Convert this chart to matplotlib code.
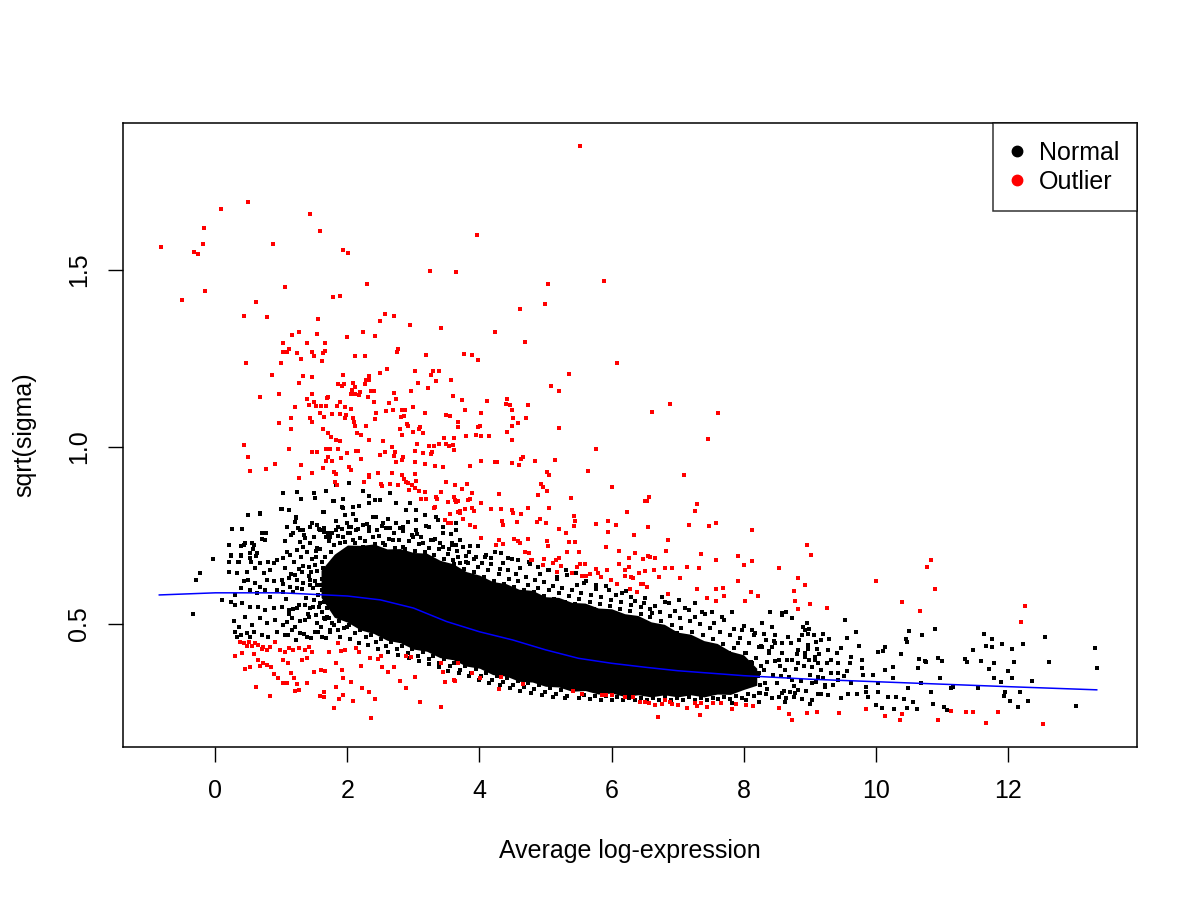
import matplotlib
matplotlib.use('Agg')
import matplotlib.pyplot as plt
from matplotlib.lines import Line2D
import numpy as np

plt.rcParams['font.family'] = ['Liberation Sans', 'DejaVu Sans']

# ---- data (x = average log-expression, y = sqrt(sigma)) ----

# outliers, upper cloud
red_high = [
    (0.50, 1.691), (0.08, 1.672), (-0.18, 1.619), (1.43, 1.657), (1.58, 1.611), (-0.83, 1.564),
    (-0.19, 1.573), (-0.32, 1.550), (-0.27, 1.546), (0.87, 1.573), (1.94, 1.557), (2.01, 1.547),
    (3.25, 1.497), (3.64, 1.494), (2.30, 1.460), (1.05, 1.453), (-0.16, 1.441), (-0.50, 1.414),
    (1.78, 1.425), (1.88, 1.427), (0.62, 1.409), (0.44, 1.369), (0.78, 1.366), (1.56, 1.361),
    (2.57, 1.375), (2.50, 1.355), (2.71, 1.369), (2.95, 1.345), (3.41, 1.337), (1.26, 1.326),
    (1.16, 1.315), (1.54, 1.320), (2.23, 1.324), (2.42, 1.313), (2.00, 1.310), (1.02, 1.295),
    (1.39, 1.293), (1.66, 1.293), (1.11, 1.277), (1.02, 1.268), (1.09, 1.268), (1.23, 1.265),
    (1.47, 1.268), (1.50, 1.256), (1.66, 1.270), (1.63, 1.265), (1.29, 1.249), (1.62, 1.242),
    (2.12, 1.256), (2.27, 1.257), (2.77, 1.276), (2.75, 1.268), (3.19, 1.260), (0.47, 1.237),
    (0.99, 1.237), (0.85, 1.203), (1.33, 1.201), (1.46, 1.197), (1.26, 1.180), (0.68, 1.140),
    (0.96, 1.149), (1.93, 1.203), (2.09, 1.182), (2.12, 1.170), (1.86, 1.178), (1.91, 1.173),
    (1.95, 1.179), (2.28, 1.190), (2.32, 1.190), (2.33, 1.200), (2.26, 1.177), (2.50, 1.208),
    (2.60, 1.219), (3.02, 1.214), (3.30, 1.214), (3.39, 1.214), (3.27, 1.203), (3.34, 1.186),
    (3.07, 1.180), (3.57, 1.190), (3.22, 1.166), (2.96, 1.159), (2.36, 1.159), (2.40, 1.157),
    (2.07, 1.160), (2.12, 1.150), (2.18, 1.146), (2.19, 1.155), (2.06, 1.149), (1.71, 1.142),
    (1.69, 1.138), (1.47, 1.149), (1.39, 1.135), (1.50, 1.126), (1.41, 1.118), (1.53, 1.115),
    (1.60, 1.116), (1.68, 1.115), (1.20, 1.113), (1.89, 1.126), (1.84, 1.115), (1.96, 1.112),
    (2.06, 1.108), (2.31, 1.140), (2.40, 1.126), (2.70, 1.153), (2.63, 1.125), (2.74, 1.135),
    (2.87, 1.104), (2.83, 1.103), (2.99, 1.112), (2.69, 1.105), (2.59, 1.101), (2.43, 1.095),
    (2.42, 1.078), (2.28, 1.058), (3.18, 1.095), (3.49, 1.090), (3.56, 1.087), (3.60, 1.143),
    (3.67, 1.070), (3.67, 1.057), (2.81, 1.084), (2.85, 1.088), (2.90, 1.066), (2.92, 1.058),
    (2.80, 1.051), (2.83, 1.033), (3.10, 1.057), (3.09, 1.051), (3.00, 1.043), (3.14, 1.039),
    (1.76, 1.093), (1.88, 1.092), (1.98, 1.091), (1.58, 1.095), (1.65, 1.084), (1.44, 1.081),
    (1.47, 1.070), (1.14, 1.081), (0.97, 1.068), (1.15, 1.052), (1.96, 1.081), (2.09, 1.081),
    (2.10, 1.070), (2.12, 1.058), (1.63, 1.050), (1.70, 1.039), (1.75, 1.027), (1.83, 1.019),
    (1.89, 1.018), (2.15, 1.040), (2.21, 1.033), (2.32, 1.019), (2.54, 1.017), (3.47, 1.025),
    (3.61, 1.024), (3.74, 1.132),
    (5.53, 1.850), (3.96, 1.598), (5.88, 1.469), (5.04, 1.460), (5.00, 1.403), (4.62, 1.391),
    (4.24, 1.324), (4.69, 1.296), (3.76, 1.262), (3.88, 1.259), (3.98, 1.245), (6.09, 1.237),
    (5.35, 1.207), (5.09, 1.171), (5.21, 1.157), (4.11, 1.129), (4.41, 1.135), (4.40, 1.121),
    (4.46, 1.118), (4.49, 1.104), (4.51, 1.083), (4.50, 1.058), (4.73, 1.119), (4.70, 1.081),
    (4.59, 1.067), (3.78, 1.105), (4.02, 1.096), (3.98, 1.057), (4.01, 1.059), (3.79, 1.030),
    (3.94, 1.033), (4.02, 1.030), (4.15, 1.032), (4.42, 1.042), (4.49, 1.019), (5.21, 1.053),
    (6.88, 1.121), (6.62, 1.098), (7.61, 1.097), (7.46, 1.022),
]

# outliers, between 0.5 and 1.0
red_mid = [
    (0.43, 1.005), (0.50, 0.972), (0.53, 0.931), (0.77, 0.938), (0.91, 0.951), (1.11, 0.994),
    (1.30, 0.950), (1.26, 0.912), (1.46, 0.927), (1.46, 0.986), (1.54, 0.985), (1.68, 0.993),
    (1.74, 0.994), (1.85, 0.994), (1.68, 0.960), (1.77, 0.961), (1.70, 0.972), (1.63, 0.941),
    (1.79, 0.929), (1.82, 0.925), (1.90, 0.969), (2.00, 0.983), (2.13, 0.989), (2.16, 0.989),
    (2.20, 0.965), (2.03, 0.943), (2.06, 0.936), (1.81, 0.900), (1.84, 0.892), (2.25, 0.900),
    (2.32, 0.920), (2.33, 0.915), (2.47, 0.926), (2.50, 0.977), (2.57, 0.987), (2.51, 0.896),
    (2.53, 0.891), (2.64, 0.895), (2.67, 0.926), (2.68, 0.999), (2.72, 0.985), (2.71, 0.974),
    (2.73, 0.958), (2.82, 0.963), (2.84, 0.971), (2.82, 0.920), (2.85, 0.910), (2.89, 0.902),
    (2.92, 0.898), (2.98, 0.892), (3.03, 0.883), (3.08, 0.876), (2.77, 0.892), (2.93, 0.879),
    (3.03, 0.989), (3.03, 0.925), (3.03, 0.957), (3.04, 0.904), (3.05, 1.009), (3.14, 0.982),
    (3.18, 0.952), (3.17, 0.874), (3.12, 0.854), (3.19, 0.852), (3.23, 1.003), (3.31, 1.004),
    (3.39, 1.007), (3.27, 0.981), (3.28, 0.985), (3.32, 0.946), (3.45, 0.944), (3.41, 0.873),
    (3.34, 0.860), (3.35, 0.853), (3.33, 0.831), (3.31, 0.828), (3.50, 1.007), (3.54, 1.004),
    (3.60, 1.006), (3.62, 0.991), (3.50, 0.901), (3.63, 0.893), (3.61, 0.858), (3.63, 0.850),
    (3.52, 0.844), (3.68, 0.817), (3.71, 0.813), (3.48, 0.794), (3.52, 0.786), (3.73, 0.880),
    (3.65, 0.844),
    (5.76, 0.994), (4.03, 0.960), (4.24, 0.957), (4.27, 0.957), (4.49, 0.954), (4.60, 0.948),
    (4.63, 0.965), (4.66, 0.973), (4.84, 0.961), (5.14, 0.964), (3.85, 0.945), (3.63, 0.892),
    (3.81, 0.896), (3.74, 0.880), (3.88, 0.869), (3.67, 0.847), (3.82, 0.850), (3.85, 0.854),
    (4.29, 0.866), (4.02, 0.842), (3.56, 0.810), (3.70, 0.818), (3.78, 0.825), (3.88, 0.827),
    (3.91, 0.818), (4.17, 0.826), (4.33, 0.826), (4.49, 0.821), (4.51, 0.814), (4.63, 0.810),
    (4.74, 0.829), (4.89, 0.864), (4.93, 0.895), (4.96, 0.888), (5.02, 0.876), (5.03, 0.929),
    (5.05, 0.922), (5.64, 0.932), (6.01, 0.888), (5.38, 0.856), (5.05, 0.829), (6.51, 0.847),
    (6.54, 0.847), (6.57, 0.860), (6.23, 0.815), (7.10, 0.920), (7.30, 0.839), (7.27, 0.818),
    (3.57, 0.784), (3.75, 0.796), (3.85, 0.780), (3.93, 0.773), (4.34, 0.791), (4.35, 0.779),
    (4.57, 0.788), (4.87, 0.789), (4.91, 0.796), (5.01, 0.784), (5.21, 0.767), (5.43, 0.805),
    (5.45, 0.792), (5.43, 0.777), (5.31, 0.756), (5.76, 0.783), (5.94, 0.792), (6.07, 0.779),
    (5.94, 0.761), (6.34, 0.752), (6.55, 0.773), (6.86, 0.737), (7.17, 0.779), (7.48, 0.778),
    (7.58, 0.784), (8.13, 0.766), (4.02, 0.742), (4.29, 0.738), (4.36, 0.725), (4.25, 0.722),
    (4.53, 0.741), (4.59, 0.734), (4.61, 0.730), (4.73, 0.740), (4.69, 0.704), (4.75, 0.700),
    (4.78, 0.681), (4.80, 0.682), (4.96, 0.667), (4.98, 0.683), (5.02, 0.734), (5.04, 0.720),
    (5.12, 0.671), (5.16, 0.680), (5.20, 0.686), (5.18, 0.648), (5.24, 0.664), (5.32, 0.703),
    (5.36, 0.731), (5.44, 0.732), (5.50, 0.703), (5.40, 0.643), (5.48, 0.662), (5.53, 0.668),
    (5.60, 0.668), (5.55, 0.636), (5.62, 0.636), (5.67, 0.640), (5.77, 0.655), (5.80, 0.643),
    (5.84, 0.634), (5.93, 0.653), (5.91, 0.718), (6.11, 0.706), (5.99, 0.624), (6.08, 0.613),
    (6.11, 0.668), (6.20, 0.653), (6.27, 0.660), (6.21, 0.636), (6.29, 0.634), (6.33, 0.629),
    (6.26, 0.687), (6.35, 0.701), (6.42, 0.643), (6.48, 0.683), (6.50, 0.650), (6.55, 0.692),
    (6.59, 0.688), (6.66, 0.686), (6.65, 0.653), (6.72, 0.633), (6.81, 0.658), (6.92, 0.657),
    (6.45, 0.613), (6.48, 0.614), (6.54, 0.605), (6.28, 0.599), (6.38, 0.590), (6.83, 0.705),
    (7.04, 0.631), (7.14, 0.661), (7.33, 0.658), (7.36, 0.697), (7.58, 0.682), (7.29, 0.599),
    (7.45, 0.574), (7.59, 0.598), (7.69, 0.601), (7.70, 0.578), (7.59, 0.566), (6.86, 0.584),
    (7.91, 0.621), (7.92, 0.692), (8.00, 0.666), (8.13, 0.678), (8.12, 0.590), (8.22, 0.579),
    (8.02, 0.565), (8.54, 0.659),
    (8.96, 0.722), (9.02, 0.695), (8.83, 0.630), (8.93, 0.610), (8.77, 0.592), (8.78, 0.564),
    (8.83, 0.542), (9.00, 0.556), (9.26, 0.544), (10.00, 0.622), (10.40, 0.561), (10.68, 0.536),
    (10.84, 0.682), (10.78, 0.660), (10.90, 0.599), (12.26, 0.550), (12.20, 0.506),
]

# outliers below the trend
red_low = [
    (0.30, 0.409), (0.37, 0.449), (0.44, 0.445), (0.48, 0.438), (0.51, 0.449), (0.40, 0.418),
    (0.45, 0.374), (0.52, 0.378), (0.56, 0.438), (0.60, 0.445), (0.65, 0.441), (0.70, 0.428),
    (0.72, 0.436), (0.78, 0.427), (0.82, 0.435), (0.91, 0.449), (0.59, 0.414), (0.64, 0.398),
    (0.67, 0.382), (0.72, 0.389), (0.78, 0.383), (0.84, 0.378), (0.61, 0.321), (0.82, 0.297),
    (0.89, 0.360), (0.95, 0.347), (0.98, 0.427), (1.06, 0.422), (1.12, 0.431), (1.03, 0.398),
    (1.10, 0.389), (1.02, 0.334), (1.08, 0.332), (1.14, 0.361), (1.19, 0.347), (1.23, 0.330),
    (1.21, 0.311), (1.26, 0.314), (1.18, 0.427), (1.27, 0.431), (1.35, 0.427), (1.41, 0.434),
    (1.31, 0.398), (1.39, 0.403), (1.46, 0.422), (1.39, 0.332), (1.50, 0.365), (1.60, 0.370),
    (1.66, 0.367), (1.64, 0.309), (1.65, 0.295), (1.58, 0.297), (1.72, 0.422), (1.86, 0.445),
    (1.90, 0.424), (1.96, 0.427), (1.83, 0.389), (1.91, 0.370), (1.93, 0.347), (2.06, 0.337),
    (1.83, 0.323), (1.93, 0.299), (1.87, 0.287), (2.08, 0.282), (1.79, 0.263), (2.18, 0.422),
    (2.20, 0.381), (2.22, 0.320), (2.33, 0.309), (2.36, 0.234), (2.34, 0.403), (2.46, 0.401),
    (2.51, 0.410), (2.52, 0.379), (2.42, 0.287), (2.62, 0.364), (2.70, 0.379), (2.79, 0.339),
    (2.88, 0.318), (2.88, 0.410), (2.97, 0.408), (3.02, 0.350), (3.10, 0.280), (3.42, 0.265),
    (3.42, 0.389), (3.45, 0.364), (3.48, 0.337), (3.62, 0.342), (3.67, 0.389), (2.13, 0.431),
    (3.63, 0.338), (3.89, 0.361), (4.01, 0.346), (4.32, 0.350), (4.29, 0.317), (4.66, 0.330),
    (5.41, 0.312), (5.55, 0.302), (5.86, 0.298), (5.91, 0.298), (6.00, 0.299), (6.20, 0.293),
    (6.33, 0.295), (6.43, 0.281), (6.51, 0.281), (6.57, 0.276), (6.66, 0.270), (6.77, 0.274),
    (6.81, 0.284), (6.88, 0.281), (6.91, 0.273), (7.01, 0.270), (6.70, 0.237), (7.14, 0.264),
    (7.26, 0.278), (7.30, 0.269), (7.36, 0.277), (7.45, 0.266), (7.54, 0.276), (7.66, 0.276),
    (7.34, 0.242), (7.82, 0.259), (7.88, 0.274), (8.03, 0.270), (8.15, 0.268), (8.54, 0.263),
    (8.69, 0.245), (8.74, 0.228), (8.96, 0.248), (9.12, 0.252), (9.44, 0.249), (9.86, 0.261),
    (10.15, 0.240), (10.37, 0.229), (10.40, 0.245), (10.95, 0.228), (11.15, 0.253),
    (11.37, 0.251), (11.48, 0.251), (11.85, 0.251), (11.67, 0.220), (12.53, 0.218),
]

# normal genes: saturated core of the cloud (lower / upper edge of the solid black)
core_x = [1.6, 1.8, 2.0, 2.2, 2.4, 2.6, 2.8, 3.0, 3.2, 3.4, 3.6, 3.8, 4.0, 4.2, 4.4, 4.6, 4.8,
          5.0, 5.2, 5.4, 5.6, 5.8, 6.0, 6.2, 6.4, 6.6, 6.8, 7.0, 7.2, 7.4, 7.6, 7.8, 8.0, 8.2]
core_lo = [0.575, 0.519, 0.505, 0.483, 0.473, 0.454, 0.447, 0.429, 0.423, 0.405, 0.399, 0.381,
           0.375, 0.357, 0.353, 0.338, 0.336, 0.324, 0.322, 0.310, 0.312, 0.302, 0.305, 0.295,
           0.300, 0.294, 0.300, 0.294, 0.300, 0.294, 0.302, 0.301, 0.315, 0.327]
core_hi = [0.652, 0.697, 0.723, 0.722, 0.726, 0.712, 0.713, 0.702, 0.700, 0.680, 0.670, 0.648,
           0.638, 0.620, 0.614, 0.598, 0.595, 0.577, 0.575, 0.561, 0.559, 0.545, 0.543, 0.529,
           0.524, 0.506, 0.499, 0.477, 0.471, 0.453, 0.445, 0.423, 0.413, 0.375]

# normal genes just above the solid core
edge_upper = [
    (1.72, 0.735), (1.79, 0.722), (1.86, 0.748), (1.97, 0.731), (2.04, 0.756), (2.11, 0.728),
    (2.19, 0.744), (2.27, 0.733), (2.33, 0.762), (2.42, 0.727), (2.48, 0.748), (2.57, 0.722),
    (2.63, 0.741), (2.72, 0.716), (2.78, 0.738), (2.87, 0.711), (2.93, 0.733), (3.02, 0.707),
    (3.09, 0.726), (3.17, 0.702), (3.23, 0.716), (3.31, 0.694), (3.38, 0.712), (3.46, 0.683),
    (3.52, 0.699), (3.61, 0.668), (3.67, 0.688), (3.76, 0.655), (3.83, 0.672), (3.91, 0.648),
    (3.98, 0.661), (4.07, 0.634), (4.13, 0.652), (4.22, 0.621), (4.29, 0.641), (4.37, 0.614),
    (4.44, 0.628), (4.52, 0.605), (4.59, 0.622), (4.68, 0.596), (4.74, 0.611), (4.83, 0.589),
    (4.89, 0.603), (4.98, 0.578), (5.06, 0.596), (5.13, 0.571), (5.21, 0.587), (5.29, 0.563),
    (5.36, 0.579), (5.44, 0.556), (5.51, 0.571), (5.59, 0.548), (5.67, 0.563), (5.74, 0.543),
    (5.82, 0.556), (5.89, 0.535), (5.97, 0.551), (6.06, 0.527), (6.13, 0.542), (6.21, 0.521),
    (6.28, 0.536), (6.37, 0.512), (6.44, 0.527), (6.52, 0.503), (6.59, 0.519), (6.68, 0.494),
    (6.75, 0.508), (6.83, 0.482), (6.91, 0.498), (6.99, 0.474), (7.06, 0.489), (7.14, 0.463),
    (7.22, 0.478), (7.31, 0.452), (7.38, 0.468), (7.46, 0.442), (7.53, 0.457), (7.62, 0.428),
    (7.69, 0.444), (7.78, 0.418), (7.86, 0.431), (7.94, 0.405), (8.02, 0.418), (8.11, 0.392),
    (8.19, 0.405), (8.27, 0.382), (8.36, 0.393),
    (1.76, 0.758), (1.91, 0.769), (2.06, 0.774), (2.16, 0.768), (2.30, 0.781), (2.45, 0.765),
    (2.58, 0.772), (2.70, 0.758), (2.84, 0.764), (2.98, 0.752), (3.12, 0.745), (3.26, 0.736),
    (3.40, 0.728), (3.54, 0.711), (3.66, 0.707), (3.80, 0.692), (3.92, 0.684), (4.04, 0.672),
    (4.18, 0.668), (4.31, 0.654), (4.43, 0.652), (4.56, 0.641), (4.70, 0.633), (4.84, 0.625),
    (4.97, 0.619), (5.11, 0.608), (5.25, 0.603), (5.40, 0.596), (5.54, 0.588), (5.69, 0.582),
    (5.84, 0.575), (5.99, 0.569), (6.14, 0.561), (6.29, 0.553), (6.44, 0.548), (6.59, 0.541),
    (6.74, 0.533), (6.89, 0.523), (7.04, 0.517), (7.19, 0.508), (7.34, 0.499), (7.49, 0.488),
    (7.64, 0.478), (7.79, 0.468), (7.94, 0.459), (8.09, 0.446), (8.24, 0.436), (8.39, 0.424),
    (1.65, 0.772), (1.83, 0.791), (1.99, 0.784), (2.09, 0.812), (2.24, 0.779), (2.38, 0.803),
    (2.52, 0.776), (2.61, 0.797), (2.79, 0.771), (2.91, 0.788), (3.06, 0.754), (3.19, 0.776),
    (3.33, 0.741), (3.44, 0.757), (3.58, 0.722), (3.71, 0.738), (3.84, 0.703), (3.97, 0.721),
    (4.09, 0.688), (4.23, 0.703), (4.36, 0.671), (4.49, 0.684), (4.62, 0.657), (4.77, 0.668),
    (4.91, 0.641), (5.04, 0.652), (5.18, 0.626), (5.33, 0.637), (5.47, 0.609), (5.62, 0.622),
    (5.77, 0.598), (5.91, 0.606), (6.07, 0.583), (6.22, 0.592), (6.36, 0.566), (6.51, 0.574),
    (6.66, 0.551), (6.81, 0.562), (6.96, 0.536), (7.11, 0.544), (7.26, 0.521), (7.41, 0.529),
    (7.56, 0.503), (7.71, 0.512), (7.86, 0.486), (8.01, 0.493), (8.16, 0.468), (8.31, 0.472),
    (8.46, 0.451),
]

# normal genes just below the solid core
edge_lower = [
    (1.72, 0.516), (1.80, 0.497), (1.87, 0.507), (1.95, 0.488), (2.03, 0.496), (2.12, 0.475),
    (2.19, 0.483), (2.28, 0.462), (2.35, 0.470), (2.44, 0.449), (2.51, 0.457), (2.59, 0.439),
    (2.66, 0.448), (2.75, 0.429), (2.82, 0.439), (2.91, 0.419), (2.98, 0.429), (3.07, 0.410),
    (3.14, 0.420), (3.23, 0.400), (3.30, 0.410), (3.39, 0.390), (3.46, 0.400), (3.55, 0.381),
    (3.62, 0.391), (3.71, 0.371), (3.78, 0.381), (3.87, 0.362), (3.94, 0.372), (4.03, 0.352),
    (4.10, 0.362), (4.19, 0.343), (4.26, 0.352), (4.35, 0.335), (4.42, 0.346), (4.51, 0.329),
    (4.58, 0.340), (4.67, 0.322), (4.74, 0.333), (4.83, 0.316), (4.90, 0.327), (4.99, 0.309),
    (5.07, 0.320), (5.16, 0.302), (5.24, 0.313), (5.33, 0.297), (5.41, 0.310), (5.50, 0.291),
    (5.58, 0.299), (5.67, 0.288), (5.75, 0.297), (5.84, 0.286), (5.92, 0.296), (6.01, 0.285),
    (6.09, 0.293), (6.18, 0.284), (6.27, 0.292), (6.36, 0.286), (6.45, 0.291), (6.54, 0.284),
    (6.63, 0.292), (6.72, 0.285), (6.81, 0.293), (6.90, 0.286), (6.99, 0.292), (7.08, 0.284),
    (7.17, 0.293), (7.26, 0.286), (7.35, 0.291), (7.44, 0.284), (7.53, 0.292), (7.62, 0.287),
    (7.71, 0.294), (7.80, 0.289), (7.89, 0.297), (7.98, 0.292), (8.07, 0.301), (8.16, 0.297),
    (8.25, 0.306), (8.34, 0.302),
    (1.74, 0.482), (1.89, 0.463), (2.04, 0.458), (2.17, 0.446), (2.31, 0.441), (2.47, 0.429),
    (2.62, 0.421), (2.77, 0.413), (2.93, 0.403), (3.08, 0.396), (3.24, 0.386), (3.38, 0.378),
    (3.53, 0.368), (3.69, 0.361), (3.84, 0.352), (3.99, 0.343), (4.15, 0.334), (4.31, 0.327),
    (4.46, 0.319), (4.62, 0.312), (4.78, 0.305), (4.94, 0.299), (5.12, 0.295), (5.29, 0.291),
]

# normal genes left of the core, x 1.0 - 1.8
black_mid = [
    (1.02, 0.612), (1.05, 0.658), (1.07, 0.571), (1.09, 0.704), (1.12, 0.529), (1.14, 0.641),
    (1.17, 0.589), (1.19, 0.676), (1.21, 0.491), (1.24, 0.623), (1.26, 0.553), (1.28, 0.731),
    (1.31, 0.598), (1.33, 0.665), (1.35, 0.512), (1.37, 0.574), (1.39, 0.702), (1.41, 0.636),
    (1.44, 0.545), (1.46, 0.684), (1.48, 0.603), (1.50, 0.747), (1.52, 0.525), (1.54, 0.651),
    (1.56, 0.581), (1.58, 0.712), (1.60, 0.492), (1.62, 0.627), (1.64, 0.563), (1.66, 0.688),
    (1.68, 0.601), (1.70, 0.758), (1.05, 0.735), (1.15, 0.752), (1.25, 0.771), (1.36, 0.742),
    (1.47, 0.785), (1.57, 0.768), (1.10, 0.468), (1.22, 0.455), (1.34, 0.472), (1.45, 0.459),
    (1.55, 0.476), (1.67, 0.461), (1.30, 0.689), (1.43, 0.611), (1.53, 0.688), (1.63, 0.659),
    (1.18, 0.542), (1.40, 0.529), (1.61, 0.535), (1.09, 0.505), (1.27, 0.654), (1.49, 0.567),
    (1.59, 0.609), (1.69, 0.521), (1.71, 0.655), (1.73, 0.578), (1.75, 0.704), (1.77, 0.549),
    (1.51, 0.622), (1.57, 0.547), (1.62, 0.596), (1.66, 0.514), (1.52, 0.705), (1.45, 0.646),
]

# normal genes, low expression side
black_left = [
    (-0.34, 0.527), (-0.30, 0.625), (-0.24, 0.645), (-0.03, 0.684), (0.10, 0.567), (0.23, 0.561),
    (0.20, 0.646), (0.21, 0.674), (0.23, 0.693), (0.21, 0.723), (0.25, 0.769), (0.40, 0.768),
    (0.50, 0.807), (0.68, 0.811), (0.39, 0.720), (0.44, 0.724), (0.56, 0.728), (0.57, 0.712),
    (0.38, 0.692), (0.35, 0.675), (0.52, 0.686), (0.62, 0.693), (0.71, 0.739), (0.77, 0.758),
    (1.03, 0.870), (1.24, 0.873), (1.29, 0.852), (1.50, 0.871), (1.68, 0.876), (1.51, 0.856),
    (1.00, 0.824), (1.11, 0.822), (1.22, 0.799), (1.08, 0.775), (1.78, 0.848), (1.93, 0.853),
    (1.83, 0.893), (2.03, 0.897), (2.23, 0.877), (2.33, 0.862), (2.41, 0.850), (1.63, 0.817),
    (1.93, 0.827), (2.08, 0.831), (2.18, 0.833), (2.33, 0.843), (2.49, 0.850), (2.64, 0.869),
    (2.74, 0.841), (2.94, 0.843), (2.89, 0.822), (3.04, 0.822), (3.17, 0.808), (3.37, 0.794),
    (1.33, 0.766), (1.43, 0.775), (1.58, 0.766), (1.68, 0.747), (1.83, 0.766), (2.03, 0.775),
    (2.13, 0.766), (2.33, 0.775), (2.54, 0.784), (2.64, 0.770), (2.84, 0.775), (3.04, 0.766),
    (3.24, 0.775), (3.44, 0.775), (3.64, 0.766),
    (0.50, 0.808), (0.68, 0.813), (1.01, 0.825), (1.12, 0.822), (1.22, 0.801), (1.20, 0.789),
    (1.64, 0.815), (1.79, 0.846), (1.92, 0.830), (1.96, 0.808), (1.18, 0.756), (1.28, 0.766),
    (1.34, 0.751), (1.54, 0.780), (1.64, 0.761), (1.74, 0.747), (1.86, 0.775), (1.94, 0.747),
    (2.01, 0.756), (0.70, 0.756), (0.75, 0.737), (0.20, 0.723), (0.45, 0.728), (0.58, 0.723),
    (0.23, 0.695), (0.39, 0.695), (0.53, 0.700), (0.63, 0.700), (0.34, 0.674), (0.54, 0.676),
    (0.68, 0.673), (0.80, 0.676), (0.88, 0.671), (0.21, 0.647), (0.33, 0.643), (0.48, 0.648),
    (0.60, 0.657), (0.73, 0.643), (0.83, 0.653), (0.93, 0.681), (1.03, 0.686), (1.13, 0.695),
    (1.23, 0.709), (1.33, 0.718), (1.43, 0.728), (1.54, 0.714), (0.43, 0.620), (0.50, 0.624),
    (0.60, 0.615), (0.68, 0.605), (0.78, 0.624), (0.88, 0.620), (1.01, 0.624), (1.11, 0.629),
    (1.21, 0.638), (1.31, 0.648), (1.41, 0.662), (1.51, 0.667), (1.61, 0.676), (0.30, 0.582),
    (0.38, 0.601), (0.53, 0.596), (0.63, 0.587), (0.75, 0.596), (0.83, 0.577), (0.93, 0.596),
    (1.03, 0.591), (1.13, 0.605), (1.23, 0.601), (1.33, 0.615), (1.43, 0.624), (1.54, 0.610),
    (1.64, 0.629), (1.74, 0.643), (1.84, 0.653), (1.91, 0.662), (1.99, 0.671), (0.23, 0.563),
    (0.30, 0.554), (0.40, 0.558), (0.53, 0.549), (0.65, 0.549), (0.75, 0.540), (0.88, 0.544),
    (1.01, 0.549), (1.11, 0.540), (1.23, 0.544), (1.36, 0.554), (1.48, 0.549), (1.58, 0.558),
    (1.69, 0.544), (1.81, 0.549), (1.91, 0.563), (2.01, 0.568), (0.28, 0.507), (0.35, 0.492),
    (0.45, 0.521), (0.55, 0.497), (0.68, 0.516), (0.78, 0.502), (0.91, 0.511), (1.03, 0.497),
    (1.16, 0.516), (1.28, 0.507), (1.41, 0.521), (1.54, 0.502), (1.64, 0.516), (1.76, 0.502),
    (1.89, 0.516), (1.99, 0.530), (0.30, 0.478), (0.38, 0.469), (0.48, 0.474), (0.58, 0.478),
    (0.70, 0.469), (0.80, 0.464), (0.93, 0.478), (1.06, 0.469), (1.16, 0.483), (1.28, 0.474),
    (1.38, 0.464), (1.51, 0.478), (1.61, 0.464), (1.74, 0.478), (1.86, 0.483), (1.99, 0.492),
    (0.33, 0.464), (0.53, 0.462),
]

# normal genes, fringe further out from the core
black_fringe = [
    (1.88, 0.728), (2.08, 0.737), (2.23, 0.718), (2.38, 0.747), (2.54, 0.728), (2.69, 0.737),
    (2.84, 0.718), (2.99, 0.747), (3.14, 0.728), (3.29, 0.737), (3.44, 0.718), (3.59, 0.728),
    (2.13, 0.794), (2.43, 0.803), (2.74, 0.784), (3.04, 0.794), (3.34, 0.803), (3.64, 0.784),
    (3.57, 0.754), (3.65, 0.723), (3.75, 0.718), (3.86, 0.720), (3.60, 0.681), (3.70, 0.671),
    (3.80, 0.676), (3.95, 0.690), (4.10, 0.695), (4.18, 0.686), (4.33, 0.700), (4.43, 0.686),
    (4.58, 0.681), (4.75, 0.676), (4.88, 0.662), (5.06, 0.653), (5.18, 0.634), (5.31, 0.653),
    (5.46, 0.643), (5.58, 0.615), (5.76, 0.610), (5.96, 0.596), (6.16, 0.587), (6.29, 0.577),
    (6.49, 0.558), (6.62, 0.530), (6.77, 0.577), (6.87, 0.558), (7.02, 0.568), (7.17, 0.540),
    (7.27, 0.558), (7.37, 0.535), (7.52, 0.535), (7.67, 0.521), (7.82, 0.535), (7.97, 0.483),
    (8.13, 0.483), (8.28, 0.502), (8.40, 0.535), (8.58, 0.530),
    (8.08, 0.445), (8.28, 0.436), (8.48, 0.445),
    (7.82, 0.276), (8.03, 0.285), (8.23, 0.280), (8.43, 0.290), (8.63, 0.280),
    (7.92, 0.445), (8.03, 0.417), (8.13, 0.389), (8.23, 0.361), (8.33, 0.332), (8.43, 0.436),
    (8.53, 0.398), (8.63, 0.370), (8.73, 0.342), (8.83, 0.314), (8.93, 0.417), (9.03, 0.379),
    (9.13, 0.351), (9.23, 0.323), (9.43, 0.361), (8.18, 0.474), (8.43, 0.492), (8.68, 0.464),
    (8.93, 0.483), (9.18, 0.455), (8.58, 0.445), (8.83, 0.427), (9.08, 0.408), (9.28, 0.427),
    (7.97, 0.323), (8.23, 0.304), (8.53, 0.295), (8.78, 0.304), (9.03, 0.285), (7.97, 0.379),
    (7.87, 0.342), (7.77, 0.398), (7.72, 0.361), (7.82, 0.314),
    (8.22, 0.352), (8.27, 0.438), (8.31, 0.371), (8.36, 0.316), (8.39, 0.417), (8.44, 0.356),
    (8.47, 0.468), (8.51, 0.332), (8.55, 0.382), (8.59, 0.419), (8.62, 0.311), (8.66, 0.398),
    (8.69, 0.351), (8.72, 0.447), (8.76, 0.326), (8.79, 0.372), (8.84, 0.456), (8.87, 0.339),
    (8.91, 0.381), (8.94, 0.312), (8.97, 0.428), (9.01, 0.357), (9.06, 0.469), (9.10, 0.337),
    (9.15, 0.414), (9.21, 0.347), (9.26, 0.389), (9.35, 0.329), (9.41, 0.417), (9.52, 0.352),
    (8.25, 0.327), (8.34, 0.455), (8.48, 0.396), (8.57, 0.354), (8.71, 0.309), (8.81, 0.415),
    (8.99, 0.397), (9.17, 0.302),
]

# normal genes, high expression tail
black_tail = [
    (8.58, 0.525), (8.64, 0.533), (8.74, 0.516), (8.96, 0.502), (8.90, 0.491), (8.99, 0.486),
    (8.88, 0.469), (8.97, 0.472), (9.20, 0.473), (9.54, 0.510), (9.71, 0.477), (9.57, 0.460),
    (9.30, 0.457), (9.09, 0.449), (9.12, 0.430), (8.98, 0.441), (9.48, 0.431), (9.75, 0.439),
    (10.03, 0.420), (10.12, 0.423), (10.14, 0.434), (10.50, 0.479), (10.46, 0.457),
    (10.48, 0.448), (10.71, 0.468), (10.90, 0.485), (10.38, 0.415), (10.66, 0.400),
    (10.75, 0.395), (10.95, 0.403), (11.00, 0.395), (11.48, 0.426), (11.36, 0.402),
    (11.39, 0.392), (11.60, 0.395), (11.67, 0.437), (11.76, 0.434), (11.64, 0.471),
    (11.76, 0.458), (11.91, 0.443), (12.07, 0.429), (12.23, 0.444), (12.57, 0.462),
    (11.72, 0.373), (11.79, 0.391), (12.00, 0.367), (12.10, 0.392), (12.07, 0.347),
    (12.37, 0.338), (12.63, 0.392), (13.33, 0.433), (13.35, 0.375), (13.03, 0.267),
    (11.94, 0.297), (12.03, 0.283), (12.16, 0.265), (12.31, 0.283), (12.19, 0.307),
    (11.96, 0.307), (11.55, 0.320), (11.80, 0.347), (11.90, 0.337), (11.15, 0.320),
    (11.04, 0.266), (11.08, 0.258), (10.87, 0.273), (10.63, 0.260), (10.57, 0.280),
    (10.43, 0.287), (10.31, 0.295), (10.00, 0.270), (10.10, 0.264), (10.28, 0.261),
    (10.47, 0.262), (10.19, 0.294), (9.47, 0.291), (9.58, 0.301), (9.72, 0.301), (9.85, 0.309),
    (9.89, 0.295), (10.04, 0.307), (9.28, 0.298), (9.13, 0.301), (9.01, 0.274), (8.88, 0.288),
    (8.77, 0.295), (8.64, 0.290), (8.58, 0.304), (9.03, 0.332), (9.23, 0.328), (9.43, 0.342),
    (9.63, 0.332), (9.86, 0.323), (10.04, 0.332), (10.27, 0.347), (10.49, 0.318),
    (10.69, 0.332), (10.84, 0.309), (9.18, 0.370), (9.33, 0.361), (9.56, 0.368), (9.79, 0.375),
    (9.96, 0.356), (10.14, 0.370), (10.27, 0.378), (10.64, 0.375), (10.77, 0.394),
    (10.97, 0.347), (11.17, 0.323), (8.73, 0.398), (8.83, 0.389), (8.93, 0.408), (9.08, 0.398),
    (9.13, 0.389), (9.33, 0.398), (9.43, 0.389), (9.63, 0.408), (9.79, 0.398), (9.61, 0.389),
    (9.81, 0.356),
]

# lowess trend (blue line)
trend_x = [-0.85, 0, 1, 2, 2.5, 3, 3.5, 4, 4.5, 5, 5.5, 6, 6.5, 7, 7.5, 8, 8.5, 9, 10, 11, 12, 13.35]
trend_y = [0.582, 0.588, 0.588, 0.579, 0.568, 0.545, 0.507, 0.478, 0.455, 0.427, 0.403, 0.389,
           0.378, 0.368, 0.361, 0.354, 0.349, 0.344, 0.337, 0.330, 0.323, 0.314]

x_ticks = [0, 2, 4, 6, 8, 10, 12]
y_ticks = [0.5, 1.0, 1.5]

# ---- plot ----
fig = plt.figure(figsize=(12, 9), dpi=100)
ax = fig.add_axes([0.1025, 0.17, 0.845, 0.6933])

ax.fill_between(core_x, core_lo, core_hi, color='black', linewidth=0)

normal = np.array(black_left + black_mid + black_fringe + black_tail + edge_upper + edge_lower)
outlier = np.array(red_high + red_mid + red_low)
ax.scatter(normal[:, 0], normal[:, 1], s=9, c='black', marker='s', linewidths=0)
ax.scatter(outlier[:, 0], outlier[:, 1], s=7, c='red', marker='s', linewidths=0)

ax.plot(trend_x, trend_y, color='blue', lw=1.1)

ax.set_xlim(-1.40, 13.96)
ax.set_ylim(0.1525, 1.915)
ax.set_xticks(x_ticks)
ax.set_xticklabels([str(t) for t in x_ticks])
ax.set_yticks(y_ticks)
ax.set_yticklabels(['0.5', '1.0', '1.5'], rotation=90, va='center')
ax.tick_params(axis='both', length=10.8, width=1.0, labelsize=18, direction='out', pad=12)
for s in ax.spines.values():
    s.set_linewidth(1.1)

ax.set_xlabel('Average log-expression', fontsize=18, labelpad=26)
ax.set_ylabel('sqrt(sigma)', fontsize=18, labelpad=22)

handles = [Line2D([], [], marker='o', color='black', ls='', markersize=7.5),
           Line2D([], [], marker='o', color='red', ls='', markersize=7.5)]
leg = ax.legend(handles, ['Normal', 'Outlier'], loc='upper right', fontsize=18,
                frameon=True, fancybox=False, borderaxespad=0, borderpad=0.7,
                labelspacing=0.2, handlelength=0.5, handletextpad=0.64)
leg.get_frame().set_edgecolor('black')
leg.get_frame().set_linewidth(1.1)

fig.savefig('out.png', dpi=100)
